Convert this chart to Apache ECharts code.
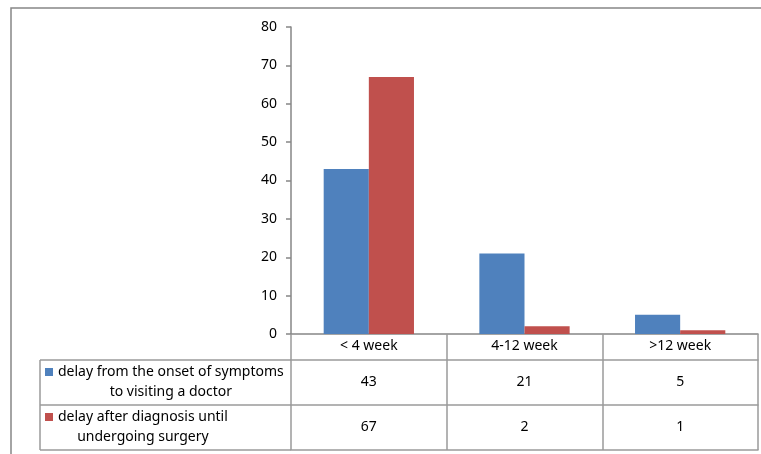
<!DOCTYPE html>
<html><head><meta charset="utf-8">
<script src="https://cdn.jsdelivr.net/npm/echarts@6/dist/echarts.min.js"></script>
<style>html,body{margin:0;padding:0;background:#fff}#c{width:761px;height:454px}</style>
</head><body><div id="c"></div>
<script>
const categories = ['< 4 week', '4-12 week', '>12 week'];
const seriesNames = ['delay from the onset of symptoms\nto visiting a doctor', 'delay after diagnosis until\nundergoing surgery'];
const symptomsToDoctor = [43, 21, 5];
const diagnosisToSurgery = [67, 2, 1];
const yTicks = { min: 0, max: 80, interval: 10 };
const colors = ['#4F81BD', '#C0504D'];

const FONT = 'Noto Sans';
const FS = 14;
const axisGray = '#868686';
const tableGray = '#9a9a9a';

const chart = echarts.init(document.getElementById('c'));

const ctx = document.createElement('canvas').getContext('2d');
ctx.font = FS + 'px "' + FONT + '"';
function headerGraphics(name, color, topY) {
  const lines = name.split('\n');
  const w = Math.max.apply(null, lines.map(l => ctx.measureText(l).width));
  const left = 58;
  const cx = left + w / 2;
  const els = [];
  els.push({ type: 'rect', shape: { x: left - 13, y: topY - 4, width: 8, height: 8 }, style: { fill: color } });
  lines.forEach((l, i) => {
    els.push({ type: 'text', x: cx, y: topY + i * 20, style: { text: l, font: FS + 'px "' + FONT + '"', fill: '#000', align: 'center', verticalAlign: 'middle' } });
  });
  return els;
}

const lineStyle = { stroke: tableGray, lineWidth: 1.5 };
const graphics = [
  { type: 'rect', shape: { x: 11, y: 8, width: 800, height: 500 }, style: { fill: null, stroke: axisGray, lineWidth: 1.5 }, silent: true },
  { type: 'line', shape: { x1: 40, y1: 360, x2: 291, y2: 360 }, style: lineStyle },
  { type: 'line', shape: { x1: 40, y1: 405, x2: 291, y2: 405 }, style: lineStyle },
  { type: 'line', shape: { x1: 40, y1: 450, x2: 291, y2: 450 }, style: lineStyle },
  { type: 'line', shape: { x1: 40, y1: 360, x2: 40, y2: 450 }, style: lineStyle }
].concat(headerGraphics(seriesNames[0], colors[0], 372)).concat(headerGraphics(seriesNames[1], colors[1], 417));

const labelFont = { color: '#000', fontFamily: FONT, fontSize: FS };

function tableAxis(data, offset, tickLen, margin) {
  return {
    type: 'category', position: 'bottom', data: data.map(String), offset: offset,
    axisLine: { show: true, lineStyle: { color: tableGray, width: 1.5 } },
    axisTick: { show: tickLen > 0, length: tickLen, lineStyle: { color: tableGray, width: 1.5 } },
    axisLabel: Object.assign({ show: margin !== null, margin: margin || 0 }, labelFont),
    splitLine: { show: false }
  };
}

chart.setOption({
  animation: false,
  textStyle: { fontFamily: FONT },
  grid: { left: 291, right: 3, top: 27, bottom: 120, containLabel: false },
  graphic: graphics,
  xAxis: [
    {
      type: 'category', data: categories, position: 'bottom',
      axisLine: { show: true, lineStyle: { color: axisGray, width: 1.5 } },
      axisTick: { show: true, length: 26, lineStyle: { color: tableGray, width: 1.5 } },
      axisLabel: Object.assign({ margin: 5 }, labelFont)
    },
    tableAxis(symptomsToDoctor, 26, 45, 15),
    tableAxis(diagnosisToSurgery, 71, 45, 15),
    tableAxis(['', '', ''], 116, 0, null)
  ],
  yAxis: {
    type: 'value', min: yTicks.min, max: yTicks.max, interval: yTicks.interval,
    axisLine: { show: true, lineStyle: { color: axisGray, width: 1.5 } },
    axisTick: { show: true, length: 5, lineStyle: { color: axisGray, width: 1.5 } },
    axisLabel: Object.assign({ margin: 14 }, labelFont),
    splitLine: { show: false }
  },
  series: [
    { type: 'bar', name: 'a', data: symptomsToDoctor, xAxisIndex: 0, itemStyle: { color: colors[0] }, barGap: '0%', barCategoryGap: '42%' },
    { type: 'bar', name: 'b', data: diagnosisToSurgery, xAxisIndex: 0, itemStyle: { color: colors[1] }, barGap: '0%', barCategoryGap: '42%' }
  ]
});
</script></body></html>
